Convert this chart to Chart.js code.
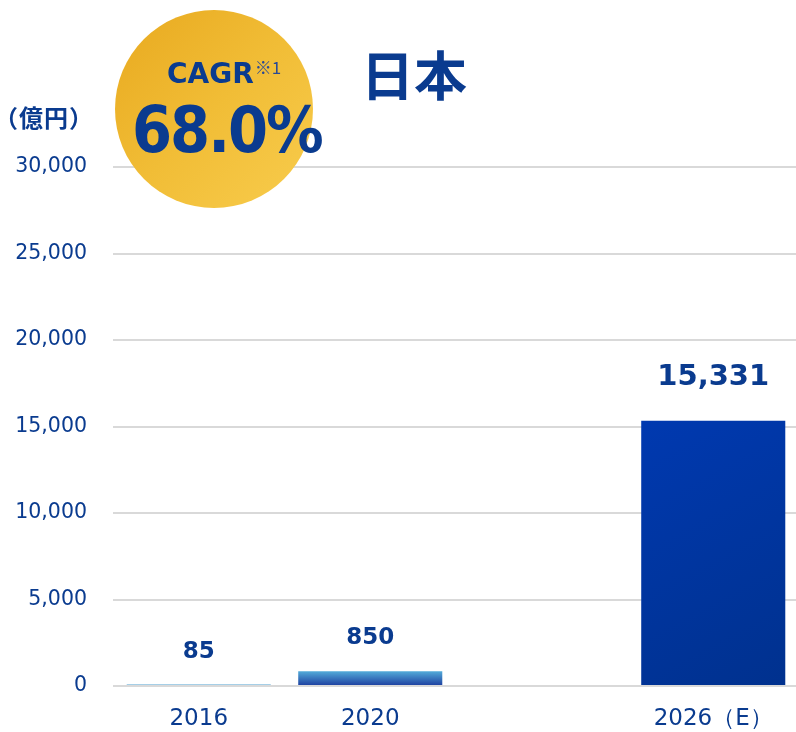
<!DOCTYPE html>
<html><head><meta charset="utf-8">
<script src="https://cdn.jsdelivr.net/npm/chart.js@4/dist/chart.umd.min.js"></script>
<style>
html,body{margin:0;padding:0;background:#fff;}
#wrap{position:relative;width:796px;height:732px;overflow:hidden;}
canvas{position:absolute;left:0;top:0;}
.ov{position:absolute;color:#0a3b8f;white-space:nowrap;}
#circle{position:absolute;left:115px;top:10px;width:198px;height:198px;border-radius:50%;
 background:linear-gradient(135deg,#e8a91f 0%,#f1bd36 50%,#f8cc4d 100%);}
</style></head>
<body><div id="wrap"><canvas id="c" width="800" height="732"></canvas>
<div id="circle"></div>
<div class="ov" style="left:167px;top:57px;font:bold 28px 'DejaVu Sans';line-height:1.2;">CAGR<span style="font:17px 'Noto Sans CJK JP';position:relative;top:-9px;margin-left:1px;color:#2a4a95;">※1</span></div>
<div class="ov" style="left:132px;top:92px;font:bold 64px 'DejaVu Sans Condensed','DejaVu Sans';letter-spacing:-2px;line-height:1.2;">68.0%</div>
<div class="ov" style="left:361px;top:42px;font:bold 53px 'Noto Sans CJK JP';line-height:1.2;">日本</div>
<div class="ov" style="left:-6px;top:103px;font:bold 24px 'Noto Sans CJK JP';letter-spacing:1px;line-height:1.2;">（億円）</div>
</div>
<script>
const categories = ['2016', '2020', '', '2026（E）'];
const values = [85, 850, null, 15331];
const valueLabels = ['85', '850', '', '15,331'];
const yMin = 0, yMax = 30000, yStep = 5000;

const TEXT = '#0a3b8f';
const FONT = "'DejaVu Sans'";

function barFill(ctx) {
  const chart = ctx.chart;
  const i = ctx.dataIndex;
  const ys = chart.scales.y, xs = chart.scales.x;
  if (!ys || !xs || values[i] == null) return '#0039a6';
  const top = ys.getPixelForValue(values[i]);
  const bot = ys.getPixelForValue(0);
  const cx = xs.getPixelForValue(i);
  const half = 72;
  const g = chart.ctx;
  if (i === 0) return '#4f9fd0';
  if (i === 1) {
    const gr = g.createLinearGradient(0, top, 0, bot);
    gr.addColorStop(0, '#52abd9');
    gr.addColorStop(1, '#1c3c9e');
    return gr;
  }
  const gr = g.createLinearGradient(cx - half, top, cx + half, bot);
  gr.addColorStop(0, '#0039b0');
  gr.addColorStop(1, '#00318e');
  return gr;
}

const labelPlugin = {
  id: 'valLabels',
  afterDatasetsDraw(chart) {
    const meta = chart.getDatasetMeta(0);
    const g = chart.ctx;
    g.save();
    g.fillStyle = TEXT;
    g.textAlign = 'center';
    g.textBaseline = 'alphabetic';
    meta.data.forEach((bar, i) => {
      if (values[i] == null) return;
      const big = i === values.length - 1;
      g.font = 'bold ' + (big ? 29 : 23) + 'px ' + FONT;
      g.fillText(valueLabels[i], bar.x, bar.y - (big ? 36 : 27));
    });
    g.restore();
  }
};

new Chart(document.getElementById('c'), {
  type: 'bar',
  data: {
    labels: categories,
    datasets: [{
      data: values,
      backgroundColor: barFill,
      borderWidth: 0,
      categoryPercentage: 1,
      barPercentage: 0.84
    }]
  },
  options: {
    responsive: false,
    animation: false,
    devicePixelRatio: 1,
    layout: { padding: { top: 167, right: 1, bottom: 0, left: 0 } },
    plugins: { legend: { display: false }, tooltip: { enabled: false } },
    scales: {
      x: {
        grid: { display: false },
        border: { display: false },
        ticks: { color: TEXT, font: { family: FONT, size: 23 }, padding: 11, maxRotation: 0, autoSkip: false },
        afterFit(s) { s.height = 46; }
      },
      y: {
        min: yMin, max: yMax,
        grid: { color: '#d9d9d9', lineWidth: 2, drawTicks: false },
        border: { display: false },
        ticks: {
          stepSize: yStep, color: TEXT, padding: 26,
          font: { family: FONT, size: 20.5 },
          callback: v => v.toLocaleString('en-US')
        },
        afterFit(s) { s.width = 113; }
      }
    }
  },
  plugins: [labelPlugin]
});
</script></body></html>
